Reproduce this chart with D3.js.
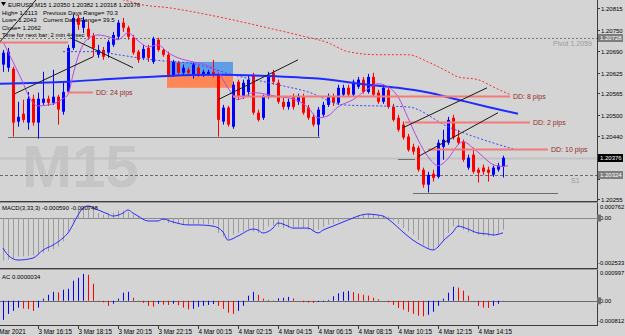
<!DOCTYPE html>
<html><head><meta charset="utf-8">
<script src="https://cdn.jsdelivr.net/npm/d3@7"></script>
<style>
html,body{margin:0;padding:0;background:#d4d4d4;}
svg{display:block;font-family:"Liberation Sans",Arial,sans-serif;}
</style></head><body>
<svg id="c" width="625" height="336"></svg>
<script>
// ---------- DATA ----------
const symbolHeader = "EURUSD,M15  1.20350 1.20382 1.20318 1.20376";
const infoLines = ["High= 1.2113", "Low= 1.2043", "Close= 1.2062", "Time for next bar: 2 min 44 sec"];
const rangeLines = ["Previous Days Range= 70.3", "Current Days Range= 39.5"];

const open = [1.20649,1.20640,1.20637,1.20482,1.20505,1.20479,1.20549,1.20479,1.20537,1.20549,
1.20537,1.20555,1.20511,1.20569,1.20698,1.20786,1.20757,1.20754,1.20734,1.20678,
1.20692,1.20684,1.20707,1.20731,1.20772,1.20757,1.20728,1.20687,1.20669,1.20698,
1.20657,1.20722,1.20692,1.20678,1.20619,1.20654,1.20625,1.20634,1.20619,1.20640,
1.20619,1.20619,1.20628,1.20619,1.20482,1.20523,1.20467,1.20599,1.20555,1.20569,
1.20616,1.20508,1.20493,1.20555,1.20625,1.20596,1.20540,1.20525,1.20555,1.20540,
1.20555,1.20523,1.20496,1.20473,1.20502,1.20531,1.20555,1.20537,1.20561,1.20581,
1.20561,1.20584,1.20605,1.20569,1.20613,1.20567,1.20540,1.20575,1.20525,1.20493,
1.20473,1.20438,1.20408,1.20405,1.20341,1.20297,1.20329,1.20320,1.20408,1.20420,
1.20493,1.20435,1.20423,1.20347,1.20385,1.20341,1.20347,1.20341,1.20326,1.20341,
1.20350];
const high = [1.20692,1.20698,1.20643,1.20540,1.20546,1.20569,1.20561,1.20567,1.20628,1.20558,
1.20634,1.20561,1.20596,1.20707,1.20795,1.20795,1.20789,1.20775,1.20742,1.20707,
1.20701,1.20722,1.20745,1.20780,1.20786,1.20763,1.20736,1.20692,1.20707,1.20707,
1.20731,1.20728,1.20698,1.20687,1.20663,1.20660,1.20649,1.20640,1.20654,1.20646,
1.20634,1.20634,1.20663,1.20625,1.20531,1.20528,1.20599,1.20605,1.20605,1.20616,
1.20625,1.20517,1.20561,1.20628,1.20634,1.20605,1.20552,1.20549,1.20564,1.20564,
1.20564,1.20531,1.20505,1.20525,1.20540,1.20564,1.20564,1.20590,1.20590,1.20590,
1.20605,1.20613,1.20613,1.20622,1.20625,1.20575,1.20590,1.20584,1.20534,1.20502,
1.20482,1.20446,1.20417,1.20411,1.20347,1.20335,1.20341,1.20429,1.20458,1.20496,
1.20502,1.20458,1.20429,1.20385,1.20405,1.20347,1.20356,1.20350,1.20353,1.20361,
1.20382];
const low = [1.20628,1.20628,1.20438,1.20467,1.20479,1.20458,1.20470,1.20432,1.20531,1.20528,
1.20531,1.20473,1.20502,1.20567,1.20692,1.20751,1.20742,1.20722,1.20672,1.20669,
1.20663,1.20669,1.20701,1.20722,1.20745,1.20722,1.20678,1.20654,1.20663,1.20657,
1.20651,1.20687,1.20672,1.20613,1.20613,1.20619,1.20619,1.20619,1.20608,1.20613,
1.20613,1.20616,1.20613,1.20438,1.20473,1.20467,1.20461,1.20546,1.20549,1.20555,
1.20502,1.20482,1.20487,1.20549,1.20590,1.20534,1.20517,1.20517,1.20517,1.20531,
1.20502,1.20487,1.20467,1.20438,1.20496,1.20525,1.20528,1.20531,1.20555,1.20555,
1.20555,1.20578,1.20564,1.20564,1.20555,1.20534,1.20534,1.20520,1.20482,1.20452,
1.20429,1.20394,1.20385,1.20335,1.20288,1.20274,1.20306,1.20315,1.20370,1.20414,
1.20429,1.20414,1.20364,1.20341,1.20329,1.20303,1.20326,1.20306,1.20320,1.20335,
1.20318];
const close = [1.20684,1.20687,1.20479,1.20496,1.20487,1.20549,1.20479,1.20549,1.20549,1.20537,
1.20555,1.20517,1.20569,1.20698,1.20786,1.20766,1.20780,1.20731,1.20698,1.20692,
1.20672,1.20716,1.20736,1.20772,1.20757,1.20731,1.20684,1.20663,1.20695,1.20669,
1.20725,1.20692,1.20678,1.20619,1.20657,1.20625,1.20640,1.20625,1.20649,1.20619,
1.20628,1.20628,1.20619,1.20487,1.20523,1.20473,1.20590,1.20555,1.20596,1.20605,
1.20508,1.20487,1.20555,1.20619,1.20599,1.20540,1.20525,1.20540,1.20525,1.20555,
1.20508,1.20493,1.20473,1.20517,1.20531,1.20555,1.20537,1.20581,1.20581,1.20561,
1.20599,1.20605,1.20569,1.20613,1.20561,1.20540,1.20581,1.20525,1.20487,1.20458,
1.20435,1.20399,1.20394,1.20341,1.20297,1.20326,1.20317,1.20420,1.20429,1.20487,
1.20435,1.20420,1.20370,1.20376,1.20335,1.20332,1.20335,1.20332,1.20347,1.20353,
1.20376];

// moving averages (bar index, price)
const maSlowIdx = [-1,13,23,33,43,53,63,73,79,85,91,97,103];
const maSlowVal = [1.20593,1.20599,1.20608,1.20616,1.20619,1.20616,1.20608,1.20590,1.20581,1.20567,1.20546,1.20525,1.20505];
const maDotIdx = [12,19,23,30,39,46,55,61,68,81,89,96,102];
const maDotVal = [1.20687,1.20687,1.20678,1.20663,1.20649,1.20619,1.20590,1.20569,1.20531,1.20525,1.20467,1.20429,1.20402];
const redDotIdx = [20,24,28,33,39,46,52,59,65,69,75,81,85,89,91,95,98,101.4];
const redDotVal = [1.20850,1.20839,1.20824,1.20816,1.20801,1.20780,1.20760,1.20736,1.20713,1.20687,1.20678,1.20678,1.20657,1.20628,1.20613,1.20605,1.20584,1.20561];
const fastIdx = [0,2,4,5,7,10,12,13,14,15,17,19,21,23,25,27,29,31,33,35,38,41,43,45,47,48,50,53,55,57,59,61,63,65,67,70,73,75,77,79,81,83,85,87,89,91,92,94,96,98,100,101];
const fastVal = [1.20716,1.20657,1.20596,1.20561,1.20528,1.20534,1.20549,1.20561,1.20619,1.20672,
1.20725,1.20736,1.20731,1.20722,1.20742,1.20719,1.20701,1.20707,1.20684,1.20669,
1.20657,1.20646,1.20628,1.20581,1.20546,1.20552,1.20567,1.20561,1.20555,1.20552,
1.20543,1.20523,1.20493,1.20499,1.20525,1.20546,1.20578,1.20593,1.20584,1.20555,
1.20493,1.20429,1.20379,1.20353,1.20373,1.20414,1.20423,1.20405,1.20379,1.20356,
1.20350,1.20353];

// levels & objects
const pivotPrice = 1.20728, s1Price = 1.20324, bidPrice = 1.20376;
const pivotText = "Pivot  1.2059", s1Text = "S1";
const ddPrice = [1.20716,1.20569,1.20558,1.20482,1.20402];
const ddFrom  = [-1,12.8,46,80.4,85];
const ddTo    = [13,18,101.4,105.4,109];
const ddLabel = ["","DD: 24 pips","DD: 8 pips","DD: 2 pips","DD: 10 pips"];
const grayPrice = [1.20438,1.20372,1.20274];
const grayFrom  = [1,79,82];
const grayTo    = [63.4,82.4,111];
const boxFrom = [32.8,32.8], boxTo = [46,46];
const boxTop = [1.20657,1.20616], boxBot = [1.20619,1.20581];
const trendFromIdx = [-0.6,2.4,13.4,43,80,83];
const trendFromVal = [1.20716,1.20564,1.20728,1.20546,1.20464,1.20379];
const trendToIdx = [6.6,18,26,59,96.8,99];
const trendToVal = [1.20839,1.20672,1.20640,1.20663,1.20581,1.20508];

const priceTicks = [1.20815,1.20750,1.20690,1.20625,1.20565,1.20500,1.20440,1.20375,1.20315,1.20255];
const timeTickIdx = [-1,7,15,23,31,39,47,55,63,71,79,87,95];
const timeLabels = ["3 Mar 2021","3 Mar 16:15","3 Mar 18:15","3 Mar 20:15","3 Mar 22:15","4 Mar 00:15","4 Mar 02:15","4 Mar 04:15","4 Mar 06:15","4 Mar 08:15","4 Mar 10:15","4 Mar 12:15","4 Mar 14:15"];

// MACD(3,33,3)
const macdHist = [-0.00215,-0.00211,-0.00203,-0.00194,-0.00194,-0.00191,-0.00189,-0.00184,-0.00177,-0.00169,
-0.00157,-0.00144,-0.00118,-0.00068,-0.00017,0.00042,0.00056,0.00056,0.00046,0.00025,
0.00017,0.00022,0.00027,0.00037,0.00037,0.00030,0.00017,0.00005,0.00000,-0.00005,
0.00000,-0.00005,-0.00012,-0.00025,-0.00029,-0.00030,-0.00032,-0.00032,-0.00029,-0.00030,
-0.00030,-0.00032,-0.00032,-0.00076,-0.00093,-0.00106,-0.00084,-0.00076,-0.00068,-0.00056,
-0.00068,-0.00076,-0.00062,-0.00042,-0.00039,-0.00046,-0.00051,-0.00051,-0.00046,-0.00046,
-0.00051,-0.00059,-0.00068,-0.00059,-0.00046,-0.00034,-0.00029,-0.00017,-0.00008,-0.00005,
0.00005,0.00012,0.00015,0.00024,0.00020,0.00012,0.00012,0.00008,-0.00012,-0.00029,
-0.00051,-0.00068,-0.00084,-0.00110,-0.00135,-0.00152,-0.00160,-0.00140,-0.00110,-0.00076,
-0.00042,-0.00046,-0.00059,-0.00073,-0.00076,-0.00084,-0.00089,-0.00093,-0.00089,-0.00079,
-0.00059];
const sigIdx = [0,1,3,6,8,10,12,13,15,16,17,19,21,22,24,25,26,27,29,31,32,34,37,39,42,44,45,47,50,51,52,54,55,57,58,61,63,64,66,68,70,71,73,75,76,78,80,82,84,86,87,88,90,91,93,95,97,98,100];
const sigVal = [-0.00152,-0.00188,-0.00213,-0.00203,-0.00162,-0.00137,-0.00101,-0.00076,0.00015,0.00051,
0.00061,0.00041,0.00020,0.00010,0.00025,0.00041,0.00025,0.00010,-0.00015,-0.00015,
-0.00005,-0.00020,-0.00035,-0.00035,-0.00041,-0.00071,-0.00112,-0.00091,-0.00056,-0.00061,
-0.00076,-0.00051,-0.00025,-0.00041,-0.00051,-0.00051,-0.00076,-0.00061,-0.00041,-0.00020,
0.00000,0.00010,0.00020,0.00015,0.00010,-0.00025,-0.00071,-0.00112,-0.00142,-0.00162,
-0.00147,-0.00117,-0.00071,-0.00041,-0.00056,-0.00076,-0.00081,-0.00086,-0.000748];
const macdLabel = "MACD(3,33,3) -0.000590 -0.000748";
const macdAxis = ["0.000762","0.00","-0.002533"];

// Accelerator (AC)
const ac = [-0.00064,-0.00044,-0.00034,-0.00023,-0.00026,-0.00028,-0.00034,-0.00023,0.00007,0.00020,
0.00030,0.00028,0.00037,0.00040,0.00067,0.00077,0.00090,0.00087,0.00057,-0.00002,
-0.00005,-0.00017,-0.00010,0.00007,0.00027,0.00030,0.00010,-0.00001,-0.00007,-0.00017,
-0.00020,-0.00010,-0.00013,-0.00014,-0.00010,-0.00015,-0.00023,-0.00029,-0.00027,-0.00020,
-0.00017,-0.00014,-0.00011,-0.00017,-0.00027,-0.00040,-0.00044,-0.00034,-0.00017,0.00017,
0.00030,0.00020,0.00007,0.00003,0.00001,0.00008,0.00010,0.00013,0.00008,0.00000,
-0.00005,-0.00006,-0.00007,-0.00004,-0.00003,0.00003,0.00015,0.00025,0.00030,0.00033,
0.00029,0.00024,0.00020,0.00017,0.00010,0.00005,0.00000,-0.00005,-0.00014,-0.00024,
-0.00030,-0.00037,-0.00044,-0.00050,-0.00052,-0.00047,-0.00037,-0.00017,0.00007,0.00027,
0.00047,0.00044,0.00034,0.00017,0.00000,-0.00017,-0.00023,-0.00024,-0.00017,-0.00010,
0.0000034];
const acLabel = "AC 0.0000034";
const acAxis = ["0.000997","0.00","-0.000812"];

// ---------- DRAW ----------
const W = 625, H = 336, PR = 597;
const BG = "#d4d4d4";
const svg = d3.select("#c");
svg.append("rect").attr("width", W).attr("height", H).attr("fill", BG);

const x = d3.scaleLinear().domain([0, 100]).range([3, 503]);
const y = d3.scaleLinear().domain([1.202491, 1.208385]).range([201, 0]);
const ym = d3.scaleLinear().domain([-0.002533, 0.000762]).range([268, 203]);
const ya = d3.scaleLinear().domain([-0.000812, 0.000997]).range([325, 271]);

const defs = svg.append("defs");
defs.append("clipPath").attr("id", "cm").append("rect").attr("x", 0).attr("y", 0).attr("width", PR).attr("height", 201);
defs.append("clipPath").attr("id", "cd").append("rect").attr("x", 0).attr("y", 203).attr("width", PR).attr("height", 65);
defs.append("clipPath").attr("id", "ca").append("rect").attr("x", 0).attr("y", 270).attr("width", PR).attr("height", 55);

const gm = svg.append("g").attr("clip-path", "url(#cm)");

// watermark
gm.append("text").attr("x", 22).attr("y", 187).attr("font-size", 60).attr("font-weight", "bold")
  .attr("fill", "#c5c5c5").text("M15");

// bid line
gm.append("line").attr("x1", 0).attr("x2", PR).attr("y1", Math.round(y(bidPrice)) + 0.5).attr("y2", Math.round(y(bidPrice)) + 0.5)
  .attr("stroke", "#c2c2c2").attr("stroke-width", 2);
// pivot & S1
gm.append("line").attr("x1", 0).attr("x2", PR).attr("y1", Math.round(y(pivotPrice)) + 0.5).attr("y2", Math.round(y(pivotPrice)) + 0.5)
  .attr("stroke", "#7a7a7a").attr("stroke-dasharray", "2,2");
gm.append("line").attr("x1", 0).attr("x2", PR).attr("y1", Math.round(y(s1Price)) + 0.5).attr("y2", Math.round(y(s1Price)) + 0.5)
  .attr("stroke", "#6a6a6a").attr("stroke-dasharray", "3,2");
gm.append("text").attr("x", 553).attr("y", 46).attr("font-size", 7).attr("fill", "#9a9a9a").text(pivotText);
gm.append("text").attr("x", 571).attr("y", 183).attr("font-size", 7).attr("fill", "#9a9a9a").text(s1Text);

// rectangles
const boxColors = ["#5f9de6", "#ff8656"];
boxFrom.forEach((b, k) => {
  gm.append("rect").attr("x", x(b)).attr("y", y(boxTop[k])).attr("width", x(boxTo[k]) - x(b))
    .attr("height", y(boxBot[k]) - y(boxTop[k])).attr("fill", boxColors[k]);
});

// gray support lines
grayPrice.forEach((p, k) => {
  const yy = Math.round(y(p)) + 0.5;
  gm.append("line").attr("x1", x(grayFrom[k])).attr("x2", x(grayTo[k])).attr("y1", yy).attr("y2", yy)
    .attr("stroke", "#6e6e6e").attr("stroke-width", 1);
});

// candles
const candles = gm.append("g");
open.forEach((o, i) => {
  const c = close[i];
  const col = c >= o ? "#0000ff" : "#ff0000";
  const cx = Math.round(x(i));
  candles.append("line").attr("x1", cx + 0.5).attr("x2", cx + 0.5).attr("y1", y(high[i])).attr("y2", y(low[i]))
    .attr("stroke", col).attr("stroke-width", 1);
  const top = y(Math.max(o, c)), bot = y(Math.min(o, c));
  candles.append("rect").attr("x", cx - 1).attr("y", top).attr("width", 3).attr("height", Math.max(1, bot - top)).attr("fill", col);
});

// moving averages
const lineGen = (sx, sy) => d3.line().x(d => sx(d[0])).y(d => sy(d[1])).curve(d3.curveMonotoneX);
gm.append("path").attr("d", lineGen(x, y)(d3.zip(maSlowIdx, maSlowVal))).attr("fill", "none")
  .attr("stroke", "#1f2bff").attr("stroke-width", 2);
gm.append("path").attr("d", lineGen(x, y)(d3.zip(maDotIdx, maDotVal))).attr("fill", "none")
  .attr("stroke", "#3a44ff").attr("stroke-width", 1).attr("stroke-dasharray", "2,2");
gm.append("path").attr("d", lineGen(x, y)(d3.zip(redDotIdx, redDotVal))).attr("fill", "none")
  .attr("stroke", "#ff2a2a").attr("stroke-width", 1).attr("stroke-dasharray", "2,2");
gm.append("path").attr("d", lineGen(x, y)(d3.zip(fastIdx, fastVal))).attr("fill", "none")
  .attr("stroke", "#b548e6").attr("stroke-width", 1);

// DD lines
ddPrice.forEach((p, k) => {
  const yy = Math.round(y(p)) + 0.5;
  gm.append("line").attr("x1", x(ddFrom[k])).attr("x2", x(ddTo[k])).attr("y1", yy).attr("y2", yy)
    .attr("stroke", "#f27a7a").attr("stroke-width", 2);
  if (ddLabel[k]) gm.append("text").attr("x", x(ddTo[k]) + 3).attr("y", yy + 2.5).attr("font-size", 7)
    .attr("fill", "#9a2a2a").text(ddLabel[k]);
});

// trend lines
trendFromIdx.forEach((a, k) => {
  gm.append("line").attr("x1", x(a)).attr("y1", y(trendFromVal[k])).attr("x2", x(trendToIdx[k])).attr("y2", y(trendToVal[k]))
    .attr("stroke", "#1a1a1a").attr("stroke-width", 1);
});

// info text
const info = svg.append("g").attr("font-size", 6).attr("fill", "#000");
info.append("path").attr("d", "M1,2 L6,2 L3.5,6 Z").attr("fill", "#000");
info.append("text").attr("x", 8).attr("y", 7).text(symbolHeader);
infoLines.forEach((t, k) => info.append("text").attr("x", 2).attr("y", 15 + k * 7.3).text(t));
rangeLines.forEach((t, k) => info.append("text").attr("x", 43).attr("y", 15 + k * 7.3).text(t));

// ---------- MACD ----------
const gd = svg.append("g").attr("clip-path", "url(#cd)");
gd.append("line").attr("x1", 0).attr("x2", PR).attr("y1", Math.round(ym(0)) + 0.5).attr("y2", Math.round(ym(0)) + 0.5).attr("stroke", "#8a8a8a");
macdHist.forEach((v, i) => {
  const cx = Math.round(x(i)) + 0.5;
  gd.append("line").attr("x1", cx).attr("x2", cx).attr("y1", ym(0)).attr("y2", ym(v)).attr("stroke", "#9c9c9c").attr("stroke-width", 1);
});
gd.append("path").attr("d", lineGen(x, ym)(d3.zip(sigIdx, sigVal))).attr("fill", "none").attr("stroke", "#2a2aff").attr("stroke-width", 1);
svg.append("text").attr("x", 2).attr("y", 210).attr("font-size", 6).attr("fill", "#000").text(macdLabel);

// ---------- AC ----------
const ga = svg.append("g").attr("clip-path", "url(#ca)");
ga.append("line").attr("x1", 0).attr("x2", PR).attr("y1", Math.round(ya(0)) + 0.5).attr("y2", Math.round(ya(0)) + 0.5).attr("stroke", "#6a6a6a");
ac.forEach((v, i) => {
  const cx = Math.round(x(i)) + 0.5;
  const up = i === 0 || v >= ac[i - 1];
  ga.append("line").attr("x1", cx).attr("x2", cx).attr("y1", ya(0)).attr("y2", ya(v)).attr("stroke", up ? "#0000ff" : "#ff0000").attr("stroke-width", 1);
});
svg.append("text").attr("x", 2).attr("y", 279).attr("font-size", 6).attr("fill", "#000").text(acLabel);

// ---------- frames ----------
const frame = svg.append("g").attr("stroke", "#3c3c3c").attr("stroke-width", 1);
[201.5, 268.5, 325.5].forEach(v => frame.append("line").attr("x1", 0).attr("x2", PR + 1).attr("y1", v).attr("y2", v));
frame.append("line").attr("x1", PR + 0.5).attr("x2", PR + 0.5).attr("y1", 0).attr("y2", 326);
[202.5, 269.5].forEach(v => frame.append("line").attr("x1", 0).attr("x2", PR + 1).attr("y1", v).attr("y2", v).attr("stroke", "#9a9a9a"));

// price axis
const boxed = [pivotPrice, s1Price, bidPrice];
const axg = svg.append("g").attr("font-size", 6).attr("fill", "#000");
priceTicks.forEach(p => {
  const yy = Math.round(y(p)) + 0.5;
  axg.append("line").attr("x1", PR).attr("x2", PR + 3).attr("y1", yy).attr("y2", yy).attr("stroke", "#3c3c3c");
  if (boxed.some(b => Math.abs(y(b) - y(p)) < 6)) return;
  axg.append("text").attr("x", 601).attr("y", yy + 2.2).text(p.toFixed(5));
});
function priceBox(p, bg) {
  const yy = Math.round(y(p));
  axg.append("rect").attr("x", 598).attr("y", yy - 4).attr("width", 25).attr("height", 8).attr("fill", bg);
  axg.append("text").attr("x", 600).attr("y", yy + 2.2).attr("fill", "#fff").text(p.toFixed(5));
}
priceBox(pivotPrice, "#7d7d7d");
priceBox(s1Price, "#7d7d7d");
priceBox(bidPrice, "#000");

// MACD / AC axis labels
const macdAxY = [ym(0.000762) + 4, ym(0), ym(-0.002533) - 5];
macdAxis.forEach((t, k) => axg.append("text").attr("x", t[0] === "-" ? 598 : 600).attr("y", macdAxY[k] + 2.2).attr("font-size", 5.8).text(t));
const acAxY = [ya(0.000997) + 2, ya(0), ya(-0.000812) - 4];
acAxis.forEach((t, k) => axg.append("text").attr("x", t[0] === "-" ? 598 : 600).attr("y", acAxY[k] + 2.2).attr("font-size", 5.8).text(t));
[ym(0), ya(0)].forEach(v => axg.append("rect").attr("x", 597).attr("y", v - 3.5).attr("width", 4).attr("height", 7).attr("fill", "#6f6f6f"));

// time axis
const tg = svg.append("g").attr("font-size", 6.3).attr("fill", "#000");
timeTickIdx.forEach((b, k) => {
  const xx = Math.round(x(b)) + 0.5;
  tg.append("line").attr("x1", xx).attr("x2", xx).attr("y1", 326).attr("y2", 329).attr("stroke", "#3c3c3c");
  tg.append("text").attr("x", k === 0 ? -6 : xx).attr("y", 334).text(timeLabels[k]);
});
</script>
</body></html>
